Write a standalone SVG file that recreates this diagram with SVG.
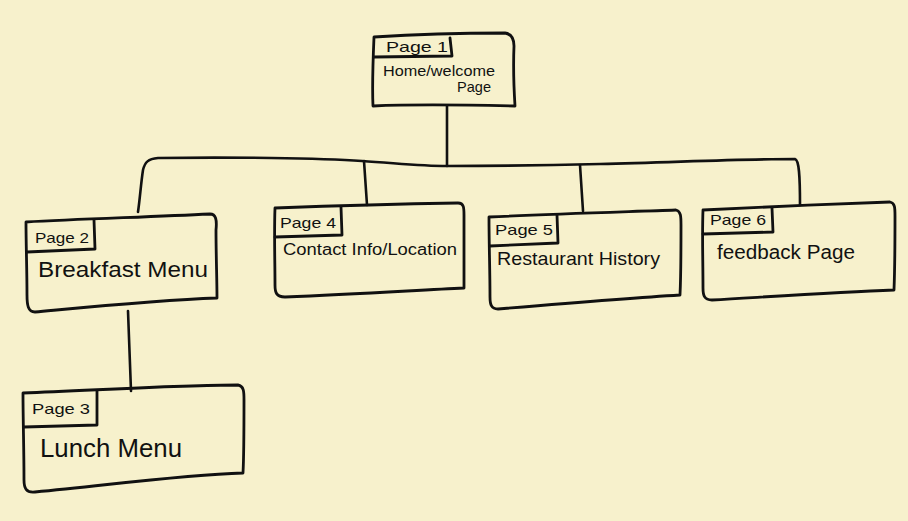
<svg xmlns="http://www.w3.org/2000/svg" width="908" height="521" viewBox="0 0 908 521">
<style>
.ln{fill:none;stroke:#111;stroke-width:2.6;stroke-linecap:round;stroke-linejoin:round}
.box{fill:none;stroke:#111;stroke-width:2.8;stroke-linecap:round;stroke-linejoin:round}
.tag{font-family:"Liberation Sans",Arial,sans-serif;font-size:15px;fill:#111}
.lbl{font-family:"Liberation Sans",Arial,sans-serif;fill:#111}
</style>
<rect width="908" height="521" fill="#f7f1cc"/>
<g id="connectors">
<path class="ln" d="M447 106 L447 166"/>
<path class="ln" d="M138 212 C140 198 141 183 143 170 C145 162 148 159 158 158 C230 157 320 158 362 161 C395 163 420 166 447 166 C500 166 560 165 600 164 C680 162 740 159 795 159 C799 160 800 175 800 205"/>
<path class="ln" d="M364 161 L367 205"/>
<path class="ln" d="M580 165 L583 211"/>
<path class="ln" d="M128 311 L131 391"/>
</g>
<g id="page1">
<path class="box" d="M374 37 C420 34 470 33 505 33 C512 34 514 40 514 46 C513 70 514 90 515 106 C470 105 420 104 373 106 C372 85 373 60 374 37 Z"/>
<path class="box" d="M374 57 L452 56 L450 38"/>
<text class="tag" x="386" y="52" font-size="17" textLength="62" lengthAdjust="spacingAndGlyphs">Page 1</text>
<text class="lbl" x="383" y="76" font-size="15" textLength="112" lengthAdjust="spacingAndGlyphs">Home/welcome</text>
<text class="lbl" x="457" y="92" font-size="15" textLength="34" lengthAdjust="spacingAndGlyphs">Page</text>
</g>
<g id="page2">
<path class="box" d="M26 222 C80 219 150 217 210 214 C216 214 217 220 216 230 C216 255 217 280 217 298 C160 300 110 305 35 312 C28 312 27 305 27 295 C27 270 26 245 26 222 Z"/>
<path class="box" d="M27 252 L95 249 L94 220"/>
<text class="tag" x="35" y="243" textLength="54" lengthAdjust="spacingAndGlyphs">Page 2</text>
<text class="lbl" x="38" y="277" font-size="22" textLength="170" lengthAdjust="spacingAndGlyphs">Breakfast Menu</text>
</g>
<g id="page3">
<path class="box" d="M23 393 C100 390 180 385 238 385 C244 386 244 392 244 400 C244 430 244 455 243 473 C180 475 110 485 35 492 C26 493 24 488 24 480 C24 450 23 420 23 393 Z"/>
<path class="box" d="M24 427 L97 425 L97 391"/>
<text class="tag" x="32" y="414" textLength="58" lengthAdjust="spacingAndGlyphs">Page 3</text>
<text class="lbl" x="40" y="457" font-size="26" textLength="142" lengthAdjust="spacingAndGlyphs">Lunch Menu</text>
</g>
<g id="page4">
<path class="box" d="M275 208 C330 206 400 204 458 203 C464 203 464 208 464 215 C464 240 464 265 464 288 C420 290 360 294 285 297 C276 297 275 292 275 285 C275 260 274 235 275 208 Z"/>
<path class="box" d="M275 237 L342 235 L341 207"/>
<text class="tag" x="280" y="228" textLength="56" lengthAdjust="spacingAndGlyphs">Page 4</text>
<text class="lbl" x="283" y="255" font-size="16" textLength="174" lengthAdjust="spacingAndGlyphs">Contact Info/Location</text>
</g>
<g id="page5">
<path class="box" d="M489 217 C550 214 620 212 676 210 C681 211 681 217 681 225 C681 250 681 275 680 295 C630 298 570 303 498 309 C491 309 490 304 490 297 C490 270 489 245 489 217 Z"/>
<path class="box" d="M490 246 L558 243 L557 215"/>
<text class="tag" x="495" y="235" textLength="58" lengthAdjust="spacingAndGlyphs">Page 5</text>
<text class="lbl" x="497" y="265" font-size="19" textLength="163" lengthAdjust="spacingAndGlyphs">Restaurant History</text>
</g>
<g id="page6">
<path class="box" d="M703 210 C760 207 830 204 890 202 C895 203 895 208 895 216 C895 240 895 265 894 290 C840 292 780 296 712 300 C704 300 703 295 703 288 C703 260 702 235 703 210 Z"/>
<path class="box" d="M703 234 L773 232 L772 208"/>
<text class="tag" x="710" y="225" textLength="56" lengthAdjust="spacingAndGlyphs">Page 6</text>
<text class="lbl" x="717" y="259" font-size="20" textLength="138" lengthAdjust="spacingAndGlyphs">feedback Page</text>
</g>
</svg>
